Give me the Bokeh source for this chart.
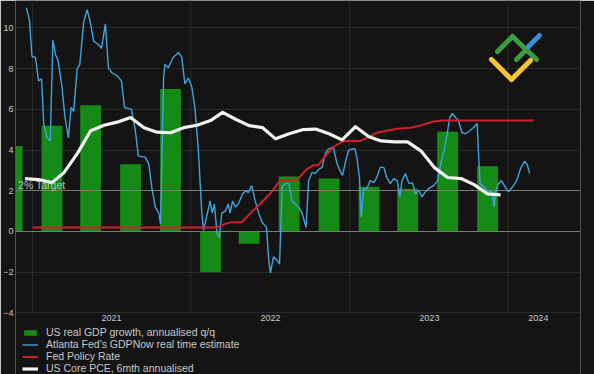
import pandas as pd
from bokeh.plotting import figure
from bokeh.models import (Range1d, FixedTicker, Legend, LegendItem, Label,
                          PolyAnnotation, ColumnDataSource)
from bokeh.core.properties import value
from bokeh.embed import file_html
from bokeh.resources import INLINE

# ---------------- data ----------------
GDP_QUARTERS = ["2020-11-15", "2021-02-15", "2021-05-15", "2021-08-15", "2021-11-15",
                "2022-02-15", "2022-05-15", "2022-08-15", "2022-11-15", "2023-02-15",
                "2023-05-15", "2023-08-15", "2023-11-15"]
GDP_GROWTH = [4.2, 5.2, 6.2, 3.3, 7.0, -2.0, -0.6, 2.7, 2.6, 2.2, 2.1, 4.9, 3.2]

GDPNOW_DATES = [
    "2020-12-18", "2020-12-25", "2020-12-31", "2021-01-08", "2021-01-15", "2021-01-22",
    "2021-01-27", "2021-02-04", "2021-02-11", "2021-02-17", "2021-02-23", "2021-03-01",
    "2021-03-10", "2021-03-17", "2021-03-25", "2021-03-31", "2021-04-06", "2021-04-14",
    "2021-04-20", "2021-04-29", "2021-05-07", "2021-05-14", "2021-05-22", "2021-06-01",
    "2021-06-09", "2021-06-18", "2021-06-25", "2021-07-03", "2021-07-15", "2021-07-25",
    "2021-08-01", "2021-08-17", "2021-08-26", "2021-09-02", "2021-09-18", "2021-09-26",
    "2021-10-03", "2021-10-11", "2021-10-19", "2021-10-23", "2021-10-30", "2021-11-02",
    "2021-11-10", "2021-11-21", "2021-12-03", "2021-12-11", "2021-12-18", "2021-12-26",
    "2022-01-03", "2022-01-10", "2022-01-18", "2022-01-26", "2022-01-30", "2022-02-07",
    "2022-02-14", "2022-02-19", "2022-02-24", "2022-03-02", "2022-03-07", "2022-03-13",
    "2022-03-21", "2022-03-28", "2022-04-01", "2022-04-07", "2022-04-13", "2022-04-20",
    "2022-04-30", "2022-05-08", "2022-05-13", "2022-05-21", "2022-05-29", "2022-06-06",
    "2022-06-14", "2022-06-24", "2022-06-29", "2022-07-03", "2022-07-10", "2022-07-18",
    "2022-07-24", "2022-07-30", "2022-08-06", "2022-08-14", "2022-08-22", "2022-08-29",
    "2022-09-06", "2022-09-14", "2022-09-23", "2022-09-29", "2022-10-07", "2022-10-14",
    "2022-10-22", "2022-10-30", "2022-11-06", "2022-11-13", "2022-11-25", "2022-12-03",
    "2022-12-10", "2022-12-16", "2022-12-22", "2022-12-30", "2023-01-06", "2023-01-14",
    "2023-01-19", "2023-01-24", "2023-01-28", "2023-02-03", "2023-02-10", "2023-02-18",
    "2023-02-26", "2023-03-05", "2023-03-13", "2023-03-21", "2023-03-28", "2023-04-05",
    "2023-04-13", "2023-04-21", "2023-04-27", "2023-05-02", "2023-05-10", "2023-05-18",
    "2023-05-26", "2023-06-02", "2023-06-10", "2023-06-17", "2023-06-25", "2023-07-02",
    "2023-07-14", "2023-07-23", "2023-07-30", "2023-08-06", "2023-08-14", "2023-08-20",
    "2023-08-26", "2023-09-02", "2023-09-09", "2023-09-17", "2023-09-25", "2023-10-05",
    "2023-10-13", "2023-10-22", "2023-10-26", "2023-10-29", "2023-11-06", "2023-11-15",
    "2023-11-25", "2023-11-30", "2023-12-04", "2023-12-10", "2023-12-17", "2023-12-25",
    "2024-01-02", "2024-01-12", "2024-01-21", "2024-01-31", "2024-02-08", "2024-02-14",
    "2024-02-20"]
GDPNOW_VALUES = [
    11.0, 10.4, 8.6, 8.55, 7.4, 7.5,
    5.3, 4.6, 4.45, 9.4, 8.7, 8.4,
    7.1, 5.6, 4.6, 6.1, 5.9, 8.0,
    8.2, 10.3, 10.9, 10.3, 9.35, 9.2,
    9.0, 10.2, 8.05, 7.8, 7.65, 7.4,
    6.1, 6.0, 4.95, 3.7, 3.65, 3.3,
    2.15, 1.2, 0.9, 0.35, 7.55, 8.2,
    8.05, 8.55, 8.8, 8.55, 7.25, 7.55,
    7.1, 6.1, 4.0, 0.9, 0.05, 0.8,
    1.5, 0.9, 1.35, -0.1, -0.3, 0.9,
    1.0, 1.35, 0.9, 1.5, 1.2, 1.35,
    1.85, 2.0, 1.9, 2.25, 1.5, 0.9,
    0.45, 0.2, -1.4, -2.05, -1.25, -1.4,
    -1.6, 2.2, 2.35, 2.35, 1.5, 1.35,
    1.2, 0.9, 0.2, 2.5, 2.9, 2.85,
    3.05, 3.15, 3.8, 4.05, 4.15, 3.35,
    3.0, 2.75, 3.35, 4.0, 4.05, 4.05,
    3.5, 2.65, 0.7, 2.1, 2.1, 2.5,
    2.4, 2.65, 3.15, 3.15, 2.65, 2.35,
    2.6, 2.5, 1.7, 2.5, 2.85, 2.35,
    2.4, 1.85, 2.0, 1.7, 1.95, 2.1,
    2.25, 2.5, 3.3, 3.9, 4.8, 5.6,
    5.8, 5.6, 5.45, 4.85, 4.8, 4.95,
    5.1, 5.3, 3.5, 2.35, 2.2, 2.0,
    1.95, 1.2, 2.0, 2.35, 2.5, 2.2,
    1.95, 2.2, 2.5, 3.15, 3.45, 3.3,
    2.85]

FED_DATES = ["2021-01-01", "2022-03-01", "2022-03-24", "2022-04-05", "2022-04-28",
             "2022-05-18", "2022-06-09", "2022-07-02", "2022-07-25", "2022-09-01",
             "2022-09-24", "2022-10-10", "2022-10-21", "2022-11-06", "2022-11-25",
             "2022-12-18", "2023-01-26", "2023-02-10", "2023-03-05", "2023-03-28",
             "2023-04-21", "2023-05-21", "2023-06-13", "2023-07-14", "2023-08-02",
             "2024-02-29"]
FED_RATE = [0.2, 0.2, 0.4, 0.45, 0.45,
            0.9, 1.35, 1.85, 2.5, 2.5,
            3.05, 3.25, 3.25, 3.7, 4.15,
            4.45, 4.45, 4.6, 4.85, 4.95,
            5.05, 5.1, 5.2, 5.4, 5.45,
            5.45]

PCE_MONTHS = pd.date_range("2020-12-01", periods=37, freq="MS") + pd.Timedelta(days=14)
PCE_6M = [2.6, 2.55, 2.4, 2.9, 3.85, 4.95, 5.22, 5.37, 5.6, 5.1, 4.88, 4.85,
          5.1, 5.22, 5.45, 5.85, 5.5, 5.2, 5.1, 4.55, 4.8, 5.0, 5.03, 4.8,
          4.5, 5.15, 4.65, 4.45, 4.4, 4.4, 3.95, 3.15, 2.65, 2.6, 2.3, 1.85, 1.8]

REF_LINES = [0, 2]
Y_TICKS = [-4, -2, 0, 2, 4, 6, 8, 10]
Y_GRID = [-4, -2, 4, 6, 8, 10]
YEAR_STARTS = ["2021-01-01", "2022-01-01", "2023-01-01", "2024-01-01"]
YEAR_LABELS = ["2021", "2022", "2023", "2024"]
YEAR_LABEL_POS = ["2021-07-02", "2022-07-03", "2023-07-04", "2024-03-11"]
X_START, X_END = "2020-11-23", "2024-06-16"
Y_BOTTOM_AXIS, Y_END = -4.02, 11.35   # plotted value range
Y_CANVAS_BOTTOM = -7.03                # value at the foot of the picture (legend room)
YEAR_LABEL_Y = -4.27

LABELS = ["US real GDP growth, annualised q/q",
          "Atlanta Fed's GDPNow real time estimate",
          "Fed Policy Rate",
          "US Core PCE, 6mth annualised"]

BG = "#141414"
GRID = "#2a2a2a"
GREEN = "#168a16"
BLUE = "#3fa4de"
RED = "#d21f2c"
WHITE = "#f2f2f2"
TXT = "#c8c8c8"
FONT = "Liberation Sans"

p = figure(width=594, height=374, output_backend="svg", toolbar_location=None,
           x_axis_type="datetime",
           x_range=Range1d(pd.Timestamp(X_START), pd.Timestamp(X_END)),
           y_range=Range1d(Y_CANVAS_BOTTOM, Y_END),
           min_border_left=15, min_border_right=14, min_border_top=0,
           min_border_bottom=0)
p.background_fill_color = BG
p.border_fill_color = BG
p.outline_line_color = None
p.xaxis.visible = False
p.xgrid.visible = False

# horizontal grid
p.ygrid.ticker = FixedTicker(ticks=Y_GRID)
p.ygrid.grid_line_color = GRID
p.ygrid.grid_line_width = 1

# vertical grid lines at year starts, limited to the plotted value range
yr = pd.to_datetime(YEAR_STARTS)
p.segment(x0=yr, y0=[Y_BOTTOM_AXIS] * len(yr), x1=yr, y1=[Y_END] * len(yr),
          line_color=GRID, line_width=1)

# y axis
yax = p.yaxis[0]
yax.ticker = FixedTicker(ticks=Y_TICKS)
yax.axis_line_color = None
yax.major_tick_line_color = None
yax.minor_tick_line_color = None
yax.major_tick_out = 0
yax.major_tick_in = 0
yax.major_label_standoff = 2
yax.major_label_text_color = TXT
yax.major_label_text_font = FONT
yax.major_label_text_font_size = "9px"

# year labels (x axis)
p.text(x=pd.to_datetime(YEAR_LABEL_POS), y=[YEAR_LABEL_Y] * len(YEAR_LABELS),
       text=YEAR_LABELS, text_align="center", text_baseline="middle",
       text_font=value(FONT), text_font_size="9px", text_color=TXT)

# bars
bar_src = ColumnDataSource(dict(x=pd.to_datetime(GDP_QUARTERS), top=GDP_GROWTH))
bars = p.vbar(x="x", top="top", bottom=0, width=48 * 86400000, source=bar_src,
              fill_color=GREEN, line_color=None)

# reference lines at 0 and 2
p.hspan(y=REF_LINES, line_color="#7a7a7a", line_width=1.2)

now_src = ColumnDataSource(dict(x=pd.to_datetime(GDPNOW_DATES), y=GDPNOW_VALUES))
l_now = p.line("x", "y", source=now_src, line_color=BLUE, line_width=1.4)

fed_src = ColumnDataSource(dict(x=pd.to_datetime(FED_DATES), y=FED_RATE))
l_fed = p.line("x", "y", source=fed_src, line_color=RED, line_width=2)

pce_src = ColumnDataSource(dict(x=PCE_MONTHS, y=PCE_6M))
l_pce = p.line("x", "y", source=pce_src, line_color=WHITE, line_width=3.2,
               line_join="round")

p.add_layout(Label(x=pd.Timestamp("2020-11-29").value / 1e6, y=2, text="2% Target",
                   text_baseline="bottom", y_offset=0, text_font=FONT,
                   text_font_size="10.5px", text_color="#bdbdbd"))

# legend in the space under the axis
legend = Legend(items=[LegendItem(label=LABELS[0], renderers=[bars]),
                       LegendItem(label=LABELS[1], renderers=[l_now]),
                       LegendItem(label=LABELS[2], renderers=[l_fed]),
                       LegendItem(label=LABELS[3], renderers=[l_pce])],
                location=(7, 0), orientation="vertical",
                background_fill_alpha=0, border_line_color=None,
                padding=0, margin=0, spacing=-2,
                glyph_width=16, glyph_height=7, label_height=11,
                label_standoff=8, label_text_font=FONT,
                label_text_font_size="10.5px", label_text_color=TXT)
p.add_layout(legend)

# decorative logo (screen units: x from frame left, y up from frame bottom)
FRAME_LEFT_PX, FRAME_BOTTOM_PX = 15, 374
LOGO_SEGMENTS = [
    ("#3c9c44", [497, 512], [51, 36]),
    ("#3c9c44", [512, 536], [36, 59]),
    ("#3c9c44", [516, 527], [59, 48]),
    ("#3b8fd9", [528, 539], [46, 35]),
    ("#f4c531", [491, 511], [59, 79]),
    ("#f4c531", [511, 530], [79, 60]),
]
for col, xs, ys in LOGO_SEGMENTS:
    p.add_layout(PolyAnnotation(xs=[x - FRAME_LEFT_PX for x in xs],
                                ys=[FRAME_BOTTOM_PX - y for y in ys],
                                xs_units="screen", ys_units="screen",
                                fill_alpha=0, line_color=col, line_alpha=1,
                                line_width=5, line_cap="round", line_join="round"))

html = file_html(p, INLINE, title="chart")
html = html.replace("<body>", '<body style="background-color:#141414;">', 1)
open("out.html", "w").write(html)
